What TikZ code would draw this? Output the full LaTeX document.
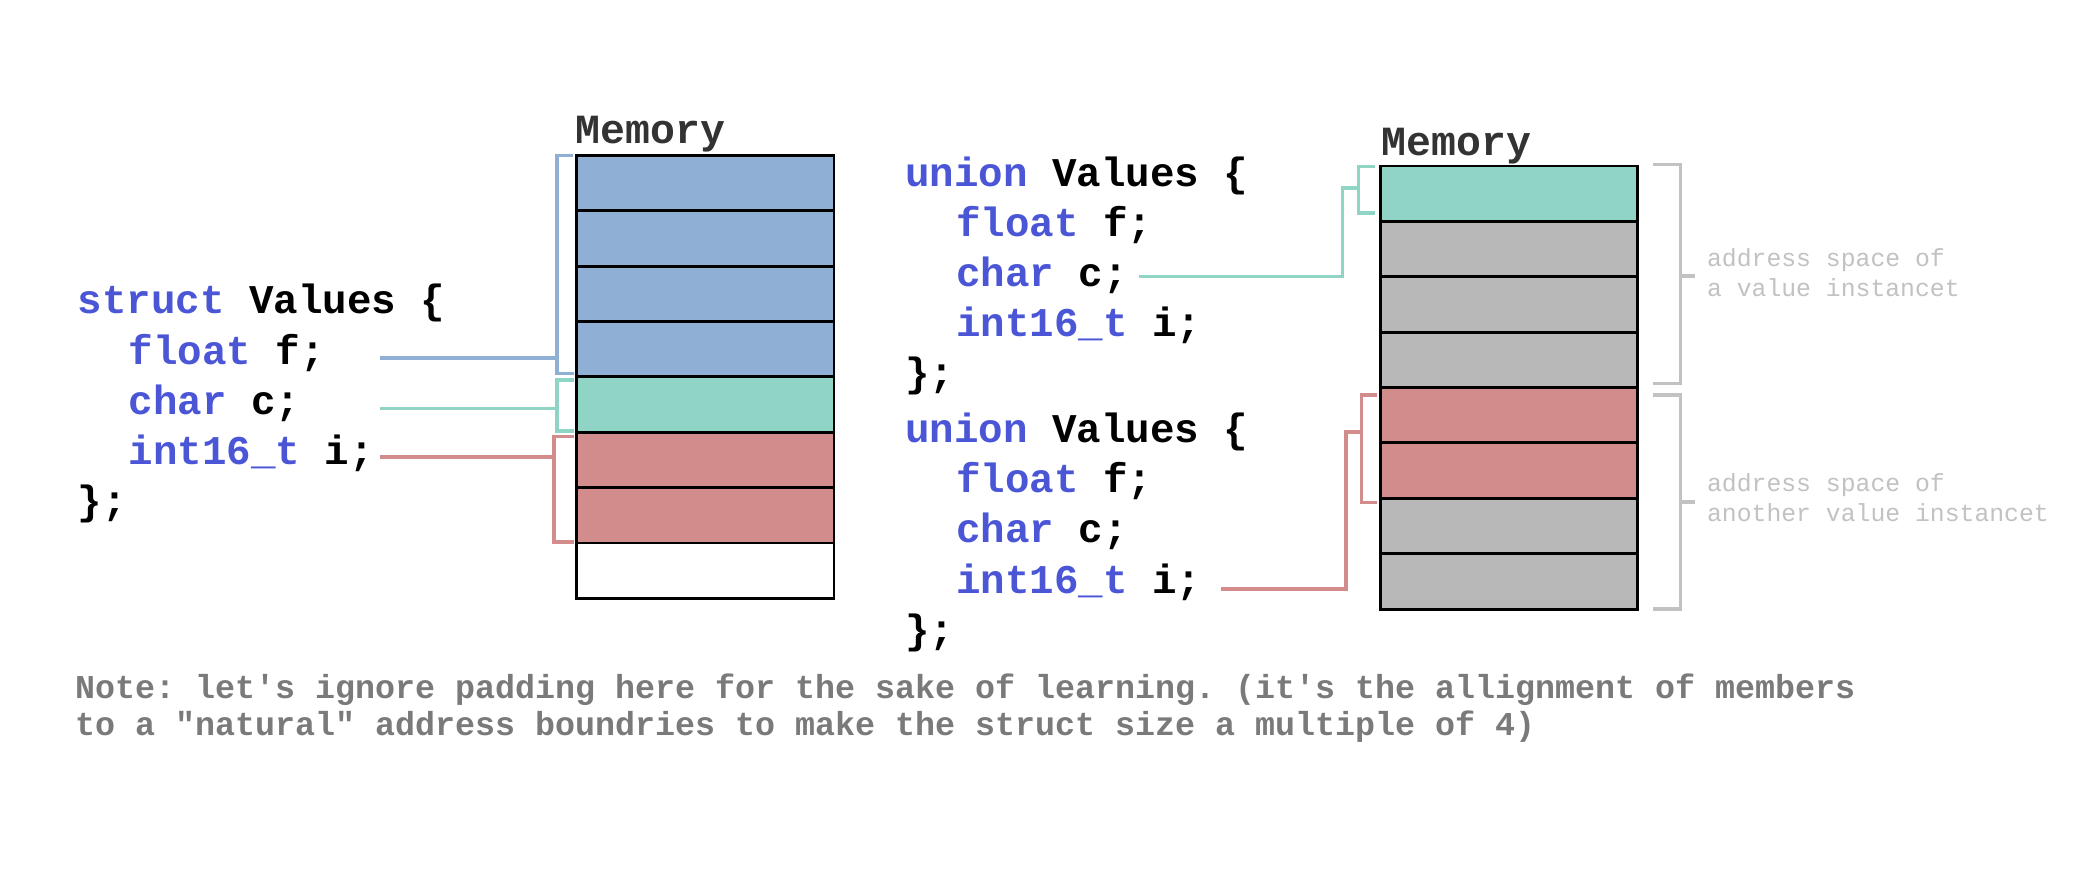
\documentclass[tikz,border=0pt]{standalone}
\usepackage{fontspec}
\setmonofont{Liberation Mono}
\definecolor{kw}{HTML}{4A56D6}
\definecolor{fblue}{HTML}{8FB0D4}
\definecolor{fteal}{HTML}{8FD4C5}
\definecolor{fred}{HTML}{D38C8C}
\definecolor{fgray}{HTML}{B8B8B8}
\definecolor{lblgray}{HTML}{C2C2C2}
\definecolor{notegray}{HTML}{7A7A7A}
\definecolor{memtxt}{HTML}{333333}
\newcommand{\kwd}[1]{\textcolor{kw}{#1}}
\begin{document}
\begin{tikzpicture}[x=1pt,y=-1pt,
  code/.style={anchor=base west,inner sep=0pt,font=\fontsize{30.5}{30.5}\selectfont\ttfamily\bfseries},
  memlbl/.style={anchor=base west,inner sep=0pt,text=memtxt,font=\fontsize{31}{31}\selectfont\ttfamily\bfseries},
  addr/.style={anchor=base west,inner sep=0pt,text=lblgray,font=\fontsize{18.5}{18.5}\selectfont\ttfamily},
  note/.style={anchor=base west,inner sep=0pt,text=notegray,font=\fontsize{24.9}{24.9}\selectfont\ttfamily\bfseries},
  cell/.style={draw=black,line width=2.2pt,minimum width=192pt,minimum height=41.375pt,inner sep=0pt},
  conn/.style={line width=2.6pt},
  brace/.style={line width=2.6pt,draw=lblgray}]
\useasboundingbox (0,0) rectangle (1568,651);
\fill[white] (0,0) rectangle (1568,651);

% ---------- left: struct ----------
\node[code] (s1) at (58,234.5) {\kwd{struct} Values \{};
\node[code] (s2) at (96,272) {\kwd{float} f;};
\node[code] (s3) at (96,309.5) {\kwd{char} c;};
\node[code] (s4) at (96,347) {\kwd{int16\_t} i;};
\node[code] (s5) at (58,384.5) {\};};

\node[memlbl] (mem1) at (430,107) {Memory};
\foreach \i/\c in {1/fblue,2/fblue,3/fblue,4/fblue,5/fteal,6/fred,7/fred,8/white}
  \node[cell,fill=\c] (L\i) at (527,{116+41.375*(\i-0.5)}) {};

\coordinate (lfa) at (284,267.5);
\coordinate (lfb) at (416,267.5);
\coordinate (lca) at (284,305);
\coordinate (lcb) at (416,305);
\coordinate (lia) at (284,341.5);
\coordinate (lib) at (414,341.5);
\draw[conn,fblue] (lfa) -- (lfb);
\draw[conn,fblue] (428,116) -- (416,116) -- (416,279) -- (429,279);
\draw[conn,fteal] (lca) -- (lcb);
\draw[conn,fteal] (429,284) -- (416,284) -- (416,322) -- (429,322);
\draw[conn,fred] (lia) -- (lib);
\draw[conn,fred] (429,326) -- (414,326) -- (414,405) -- (429,405);

% ---------- right: unions ----------
\node[code] (u1) at (676,139) {\kwd{union} Values \{};
\node[code] (u2) at (714,176.5) {\kwd{float} f;};
\node[code] (u3) at (714,214) {\kwd{char} c;};
\node[code] (u4) at (714,251.5) {\kwd{int16\_t} i;};
\node[code] (u5) at (676,289) {\};};
\node[code] (v1) at (676,330.5) {\kwd{union} Values \{};
\node[code] (v2) at (714,368) {\kwd{float} f;};
\node[code] (v3) at (714,405.5) {\kwd{char} c;};
\node[code] (v4) at (714,443) {\kwd{int16\_t} i;};
\node[code] (v5) at (676,480.5) {\};};

\node[memlbl] (mem2) at (1032,116) {Memory};
\foreach \i/\c in {1/fteal,2/fgray,3/fgray,4/fgray,5/fred,6/fred,7/fgray,8/fgray}
  \node[cell,fill=\c] (R\i) at (1127,{124+41.375*(\i-0.5)}) {};

\coordinate (rca) at (851,206.5);
\coordinate (rcb) at (1003,140.3);
\draw[conn,fteal] (rca) -| (rcb) -- (1015,140.3);
\draw[conn,fteal] (1027,124.5) -- (1015,124.5) -- (1015,159) -- (1027,159);
\coordinate (ria) at (912,440);
\coordinate (rib) at (1005.5,322.6);
\draw[conn,fred] (ria) -| (rib) -- (1017,322.6);
\draw[conn,fred] (1029,295) -- (1017,295) -- (1017,375.5) -- (1029,375.5);

\draw[brace] (1235,123) -- (1255.5,123) -- (1255.5,286.5) -- (1235,286.5);
\draw[brace] (1255.5,206) -- (1266,206);
\draw[brace] (1235,295) -- (1255.5,295) -- (1255.5,455) -- (1235,455);
\draw[brace] (1255.5,375) -- (1266,375);

\node[addr] (a1) at (1275,199) {address space of};
\node[addr] (a2) at (1275,221.5) {a value instancet};
\node[addr] (a3) at (1275,367.5) {address space of};
\node[addr] (a4) at (1275,389.5) {another value instancet};

% ---------- note ----------
\node[note] (n1) at (56,522) {Note: let's ignore padding here for the sake of learning. (it's the allignment of members};
\node[note] (n2) at (56,549.5) {to a "natural" address boundries to make the struct size a multiple of 4)};
\end{tikzpicture}
\end{document}
